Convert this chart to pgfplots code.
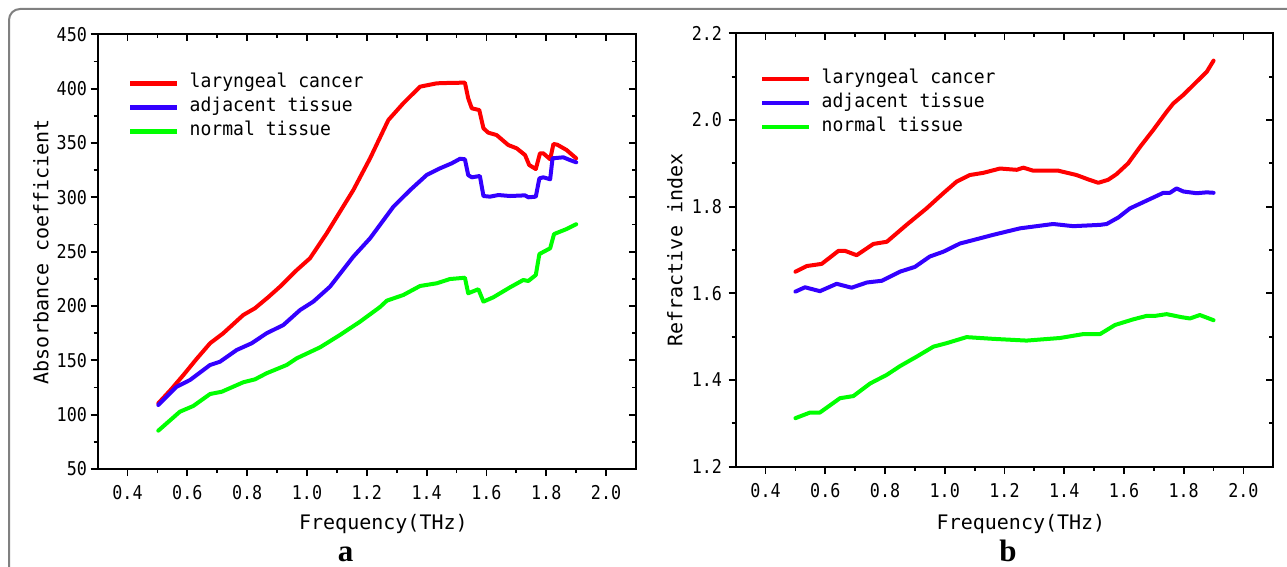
\documentclass[border=0pt]{standalone}
\usepackage{fontspec}
\usepackage{pgfplots}
\pgfplotsset{compat=1.18}
\setmainfont{Liberation Serif}
\newfontfamily\labfont{DejaVu Sans Mono}
\newfontfamily\legfont[FakeStretch=0.95]{DejaVu Sans Mono}
\newfontfamily\tickfont[FakeStretch=0.88]{DejaVu Sans Mono}
\definecolor{cred}{RGB}{255,0,0}
\definecolor{cblue}{RGB}{51,0,255}
\definecolor{cgreen}{RGB}{0,255,0}
\definecolor{framegray}{RGB}{128,128,128}

% shared look of both panels
\pgfplotsset{
  panel/.style={
    scale only axis, anchor=south west,
    xmin=0.3, xmax=2.1,
    xtick={0.4,0.6,0.8,1.0,1.2,1.4,1.6,1.8,2.0},
    minor x tick num=1, minor y tick num=1,
    major tick length=7pt, minor tick length=4pt,
    every tick/.append style={black, line width=1.8pt},
    axis line style={black, line width=1.8pt},
    tick label style={font=\tickfont\fontsize{19}{19}\selectfont, inner sep=0pt},
    xticklabel={\pgfmathprintnumber[fixed,fixed zerofill,precision=1,assume math mode=true]{\tick}},
    xticklabel style={anchor=north, text height=14pt, text depth=0pt, yshift=-9.7pt},
  },
  front/.style={
    panel, tick align=outside, xtick pos=left, ytick pos=left,
    legend cell align=left,
    legend image code/.code={\draw[##1, line width=4.5pt, line cap=butt] (0pt,0pt) -- (47pt,0pt);},
    legend style={draw=none, fill=none, anchor=north west, inner sep=0pt,
      row sep=5pt, column sep=10pt,
      font=\legfont\fontsize{19}{19}\selectfont,
      nodes={inner sep=0pt, text height=14pt, text depth=5pt}},
  },
  back/.style={
    panel, tick align=inside, xtick pos=right, ytick pos=right,
    xticklabels={}, yticklabels={},
  },
  curve/.style={line width=4pt, line join=round, line cap=round},
}

\begin{document}
\begin{tikzpicture}
\useasboundingbox (0pt,0pt) rectangle (1287pt,566pt);
\draw[framegray, line width=2pt, rounded corners=11pt] (9pt,-10pt) -- (9pt,557pt) -- (1300pt,557pt);

% ---- panel a ----
\begin{axis}[back, at={(97.6pt,97pt)}, width=538.4pt, height=434.7pt,
  ymin=50, ymax=450, ytick={50,100,...,450}]
\end{axis}
\begin{axis}[front, at={(97.6pt,97pt)}, width=538.4pt, height=434.7pt,
  ymin=50, ymax=450, ytick={50,100,...,450},
  yticklabel={\pgfmathprintnumber[fixed,precision=0,assume math mode=true]{\tick}},
  yticklabel style={anchor=east, xshift=-3.5pt},
  legend style={at={(axis description cs:0.0565,0.9097)}}]
\addplot[curve, cred] coordinates {
(0.503,110.5) (0.545,123) (0.587,136.5) (0.630,151) (0.676,165.7) (0.720,174.9)
(0.787,191.7) (0.826,197.9) (0.870,208) (0.910,217.8) (0.966,233.1) (1.010,243.9)
(1.066,266.9) (1.155,306.7) (1.211,335.9) (1.272,371.1) (1.322,386.5) (1.378,401.8)
(1.434,404.9) (1.480,405.3) (1.528,405.5) (1.539,391.1) (1.551,381.9) (1.576,380.3)
(1.590,363.5) (1.606,359.5) (1.634,357.3) (1.673,348.1) (1.701,345.1) (1.729,338.9)
(1.743,329.7) (1.765,326) (1.779,340.5) (1.790,340.5) (1.813,335) (1.824,349.1)
(1.837,348.4) (1.868,343.5) (1.900,335.9)};
\addplot[curve, cblue] coordinates {
(0.503,108.9) (0.564,125.7) (0.609,131.9) (0.676,145.7) (0.709,148.7) (0.765,159.5)
(0.815,165.7) (0.865,174.9) (0.921,182.5) (0.977,196.3) (1.021,204) (1.077,217.8)
(1.155,245.4) (1.211,262.3) (1.289,291.4) (1.345,306.7) (1.400,320.5) (1.445,326.7)
(1.484,331.3) (1.512,335.5) (1.528,335) (1.539,320.5) (1.551,318.4) (1.578,319.6)
(1.590,301.2) (1.612,300.6) (1.640,302.1) (1.679,301.2) (1.729,301.8) (1.740,300)
(1.765,300.6) (1.777,317.5) (1.790,318.4) (1.813,316.6) (1.821,335.9) (1.857,336.8)
(1.879,334.3) (1.900,332.2)};
\addplot[curve, cgreen] coordinates {
(0.503,85.3) (0.575,102.7) (0.620,108) (0.676,119) (0.715,121.1) (0.787,129.8)
(0.826,132.5) (0.865,138.1) (0.932,145.7) (0.966,151.9) (1.044,162) (1.110,173.3)
(1.177,185.5) (1.244,199) (1.267,204.9) (1.322,210.1) (1.378,218.4) (1.434,220.9)
(1.478,224.8) (1.528,226) (1.539,211.7) (1.573,215.4) (1.590,204) (1.623,208)
(1.679,217.2) (1.723,223.9) (1.740,223) (1.765,228.5) (1.777,247.8) (1.813,253.1)
(1.826,266.2) (1.868,270.8) (1.900,275.2)};
\legend{laryngeal cancer, adjacent tissue, normal tissue}
\end{axis}

% ---- panel b ----
\begin{axis}[back, at={(735.7pt,99.3pt)}, width=537.6pt, height=433.4pt,
  ymin=1.2, ymax=2.2, ytick={1.2,1.4,1.6,1.8,2.0,2.2}]
\end{axis}
\begin{axis}[front, at={(735.7pt,99.3pt)}, width=537.6pt, height=433.4pt,
  ymin=1.2, ymax=2.2, ytick={1.2,1.4,1.6,1.8,2.0,2.2},
  yticklabel={\pgfmathprintnumber[fixed,fixed zerofill,precision=1,assume math mode=true]{\tick}},
  yticklabel style={anchor=east, xshift=-6.5pt},
  legend style={at={(axis description cs:0.0452,0.9164)}}]
\addplot[curve, cred] coordinates {
(0.500,1.650) (0.538,1.663) (0.588,1.668) (0.644,1.698) (0.666,1.698) (0.705,1.688)
(0.761,1.714) (0.806,1.719) (0.872,1.758) (0.939,1.796) (0.995,1.831) (1.040,1.858)
(1.084,1.873) (1.129,1.878) (1.185,1.888) (1.241,1.885) (1.263,1.890) (1.296,1.883)
(1.380,1.883) (1.441,1.873) (1.480,1.863) (1.514,1.855) (1.547,1.862) (1.575,1.875)
(1.614,1.900) (1.654,1.938) (1.698,1.977) (1.743,2.019) (1.765,2.038) (1.799,2.058)
(1.843,2.088) (1.877,2.111) (1.900,2.137)};
\addplot[curve, cblue] coordinates {
(0.500,1.604) (0.532,1.614) (0.582,1.605) (0.638,1.622) (0.688,1.613) (0.739,1.625)
(0.789,1.629) (0.850,1.650) (0.900,1.661) (0.950,1.685) (0.995,1.696) (1.051,1.715)
(1.107,1.725) (1.162,1.735) (1.252,1.750) (1.363,1.760) (1.430,1.755) (1.520,1.758)
(1.542,1.760) (1.581,1.775) (1.620,1.796) (1.676,1.814) (1.732,1.832) (1.754,1.832)
(1.776,1.842) (1.799,1.835) (1.843,1.831) (1.877,1.833) (1.900,1.832)};
\addplot[curve, cgreen] coordinates {
(0.500,1.312) (0.549,1.325) (0.582,1.325) (0.649,1.358) (0.694,1.363) (0.750,1.392)
(0.806,1.412) (0.850,1.432) (0.906,1.454) (0.962,1.477) (1.006,1.485) (1.073,1.499)
(1.162,1.495) (1.274,1.491) (1.386,1.497) (1.464,1.506) (1.520,1.506) (1.570,1.527)
(1.631,1.540) (1.676,1.548) (1.704,1.548) (1.743,1.552) (1.793,1.545) (1.821,1.542)
(1.854,1.550) (1.900,1.538)};
\legend{laryngeal cancer, adjacent tissue, normal tissue}
\end{axis}

% axis titles and panel letters
\node[rotate=90, font=\labfont\fontsize{20}{20}\selectfont] at (41pt,314.3pt) {Absorbance coefficient};
\node[rotate=90, font=\labfont\fontsize{20}{20}\selectfont] at (675pt,316pt) {Refractive index};
\node[anchor=base, font=\labfont\fontsize{20}{20}\selectfont] at (383.4pt,36.5pt) {Frequency(THz)};
\node[anchor=base, font=\labfont\fontsize{20}{20}\selectfont] at (1021pt,36.5pt) {Frequency(THz)};
\node[anchor=base, inner sep=0pt, font=\bfseries\fontsize{31}{31}\selectfont] at (345.5pt,4.5pt) {a};
\node[anchor=base, inner sep=0pt, font=\bfseries\fontsize{31}{31}\selectfont] at (1008pt,4.5pt) {b};
\end{tikzpicture}
\end{document}
